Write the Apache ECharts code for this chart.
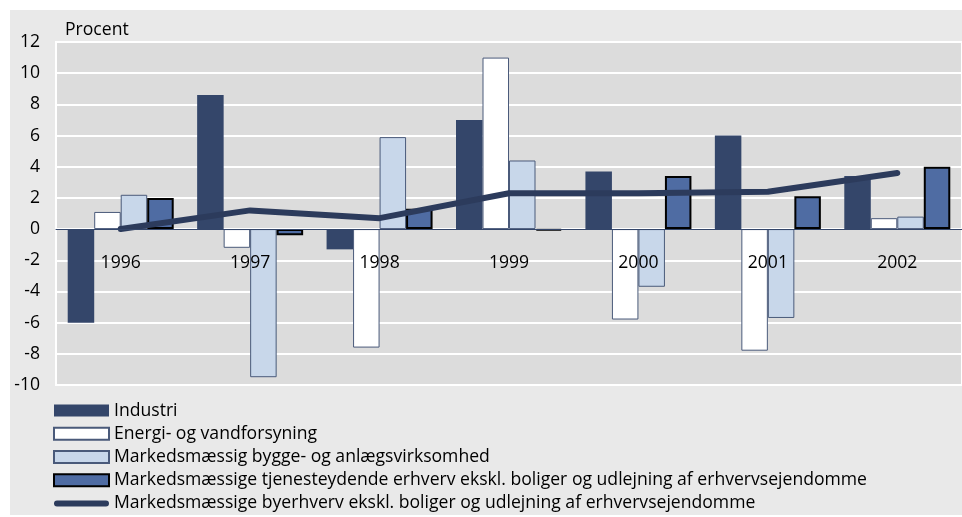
<!DOCTYPE html>
<html>
<head>
<meta charset="utf-8">
<script src="https://cdn.jsdelivr.net/npm/echarts@6/dist/echarts.min.js"></script>
<style>
  html, body { margin: 0; padding: 0; background: #fff; }
  .chart-box {
    position: absolute;
    left: 10px;
    top: 10px;
    width: 952px;
    height: 505px;
    background: #e9e9e9;
  }
</style>
</head>
<body>
<div class="chart-box" id="chart"></div>
<script>
const years = ['1996', '1997', '1998', '1999', '2000', '2001', '2002']
const yTicks = [-10, -8, -6, -4, -2, 0, 2, 4, 6, 8, 10, 12]

const industri = [-6.0, 8.6, -1.3, 7.0, 3.7, 6.0, 3.4]
const energi = [1.1, -1.2, -7.6, 11.0, -5.8, -7.8, 0.7]
const bygge = [2.2, -9.5, 5.9, 4.4, -3.7, -5.7, 0.8]
const tjeneste = [2.0, -0.4, 1.3, -0.1, 3.4, 2.1, 4.0]
const byerhverv = [0.0, 1.2, 0.7, 2.3, 2.3, 2.4, 3.6]

const names = [
  'Industri',
  'Energi- og vandforsyning',
  'Markedsmæssig bygge- og anlægsvirksomhed',
  'Markedsmæssige tjenesteydende erhverv ekskl. boliger og udlejning af erhvervsejendomme',
  'Markedsmæssige byerhverv ekskl. boliger og udlejning af erhvervsejendomme'
]

const font = '"Open Sans", sans-serif'
const fs = 17.6
// thick line with round ends, padded to the 55x12 legend box
const lineIcon = 'path://M0,0 L0.01,0 Z M3,3 H52 A3,3 0 0 1 52,9 H3 A3,3 0 0 1 3,3 Z M0,12 L0.01,12 Z'

function barSeries(name, data, color, border, borderWidth) {
  return {
    name: name,
    type: 'bar',
    data: data,
    barWidth: 26.5,
    barGap: '0%',
    itemStyle: {
      color: color,
      borderColor: border,
      borderWidth: borderWidth
    }
  }
}

const option = {
  animation: false,
  textStyle: { fontFamily: font },
  grid: {
    left: 46,
    top: 32,
    width: 917,
    height: 343,
    show: true,
    backgroundColor: '#dcdcdc',
    borderColor: '#ffffff',
    borderWidth: 2
  },
  graphic: [{
    type: 'text',
    left: 55,
    top: 11,
    style: { text: 'Procent', fontSize: fs, fontFamily: font, fill: '#000' }
  }],
  legend: {
    orient: 'vertical',
    left: 43,
    top: 389,
    height: 122,
    padding: 0,
    itemWidth: 55,
    itemHeight: 12,
    itemGap: 0,
    textStyle: { fontSize: fs, color: '#000', fontFamily: font, lineHeight: 23.2 },
    data: [
      { name: names[0], icon: 'rect' },
      { name: names[1], icon: 'rect' },
      { name: names[2], icon: 'rect' },
      { name: names[3], icon: 'rect' },
      { name: names[4], icon: lineIcon, itemStyle: { color: '#2c3b5c', borderWidth: 0 } }
    ]
  },
  xAxis: {
    type: 'category',
    data: years,
    z: 10,
    axisLine: { onZero: true, lineStyle: { color: '#34466a', width: 1 } },
    axisTick: { show: false },
    axisLabel: { color: '#000', fontSize: fs, margin: -131, fontFamily: font },
    splitLine: { show: false }
  },
  yAxis: {
    type: 'value',
    min: yTicks[0],
    max: yTicks[yTicks.length - 1],
    interval: 2,
    axisLine: { show: false },
    axisTick: { show: false },
    axisLabel: { color: '#000', fontSize: fs, margin: 16, fontFamily: font },
    splitLine: { lineStyle: { color: '#ffffff', width: 2 } }
  },
  series: [
    barSeries(names[0], industri, '#34466a', '#34466a', 0),
    barSeries(names[1], energi, '#ffffff', '#4a5a7a', 1),
    barSeries(names[2], bygge, '#c8d7ea', '#4a5a7a', 1),
    barSeries(names[3], tjeneste, '#4f6ca3', '#000000', 2),
    {
      name: names[4],
      type: 'line',
      data: byerhverv,
      symbol: 'none',
      z: 5,
      lineStyle: { color: '#2c3b5c', width: 6, cap: 'round' },
      itemStyle: { color: '#2c3b5c' }
    }
  ]
}

const myCharts = echarts.init(document.getElementById('chart'))
myCharts.setOption(option)
</script>
</body>
</html>
